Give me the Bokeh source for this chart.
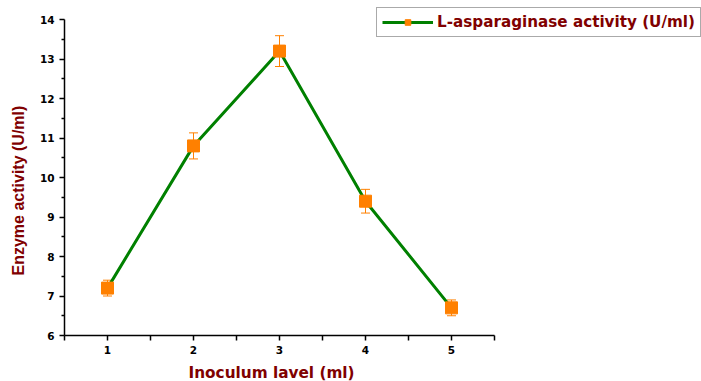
from bokeh.plotting import figure
from bokeh.models import (ColumnDataSource, Whisker, TeeHead, FixedTicker, Legend,
                          LegendItem, Range1d, Title)
from bokeh.embed import file_html
from bokeh.resources import INLINE

inoculum = [1, 2, 3, 4, 5]
activity = [7.2, 10.8, 13.2, 9.4, 6.7]
error = [0.2, 0.33, 0.39, 0.3, 0.2]
x_ticks = [1, 2, 3, 4, 5]
x_minor = [0.5, 1.5, 2.5, 3.5, 4.5, 5.5]
y_ticks = [6, 7, 8, 9, 10, 11, 12, 13, 14]
y_minor = [6.5, 7.5, 8.5, 9.5, 10.5, 11.5, 12.5, 13.5]
x_title = "Inoculum lavel (ml)"
y_title = "Enzyme activity (U/ml)"
series_name = "L-asparaginase activity (U/ml)"

DARKRED = "#800000"
GREEN = "#008000"
ORANGE = "#FF8000"
FONT = "DejaVu Sans"
FONT2 = "Liberation Sans"

W, H = 701, 381
AX_L, AX_R, AX_T, AX_B = 64, 494, 19, 335
x0, x1 = x_minor[0], x_minor[-1]
y0, y1 = y_ticks[0], y_ticks[-1]
xs = (AX_R - AX_L) / (x1 - x0)
ys = (AX_B - AX_T) / (y1 - y0)

src = ColumnDataSource(data=dict(
    x=inoculum, y=activity,
    upper=[a + e for a, e in zip(activity, error)],
    lower=[a - e for a, e in zip(activity, error)],
))

p = figure(width=W, height=H, output_backend="svg", toolbar_location=None,
           x_range=Range1d(x0, x0 + (W - AX_L) / xs),
           y_range=Range1d(y0, y0 + AX_B / ys),
           min_border_left=AX_L, min_border_right=0, min_border_top=0,
           min_border_bottom=H - AX_B)
p.outline_line_color = None
p.grid.visible = False
p.background_fill_color = "white"
p.border_fill_color = "white"

ln = p.line("x", "y", source=src, line_color=GREEN, line_width=3)
wh = Whisker(source=src, base="x", upper="upper", lower="lower",
             line_color=ORANGE, line_width=1,
             upper_head=TeeHead(size=9, line_color=ORANGE, line_width=1),
             lower_head=TeeHead(size=9, line_color=ORANGE, line_width=1))
p.add_layout(wh)
sq = p.scatter("x", "y", source=src, marker="square", size=12,
               fill_color=ORANGE, line_color=ORANGE)

for ax in (p.xaxis[0], p.yaxis[0]):
    ax.axis_line_color = "black"
    ax.axis_line_width = 1.5
    ax.major_tick_line_width = 1.5
    ax.minor_tick_line_width = 1.5
    ax.major_tick_in = 0
    ax.minor_tick_in = 0
    ax.major_tick_out = 5
    ax.minor_tick_out = 3
    ax.major_label_text_font = FONT
    ax.major_label_text_font_style = "bold"
    ax.major_label_text_font_size = "10.5px"
    ax.major_label_text_color = "black"

p.xaxis[0].bounds = (x0, x1)
p.yaxis[0].bounds = (y0, y1)
p.xaxis[0].ticker = FixedTicker(ticks=x_ticks, minor_ticks=x_minor)
p.yaxis[0].ticker = FixedTicker(ticks=y_ticks, minor_ticks=y_minor)
p.xaxis[0].minor_tick_out = 5
p.xaxis[0].major_label_standoff = 5
p.yaxis[0].major_label_standoff = 5
# blank spacer label: pushes the x title panel a few pixels further down
p.xaxis[0].axis_label = " "
p.xaxis[0].axis_label_text_font_size = "1px"
p.xaxis[0].axis_label_standoff = 1

# axis titles as side-panel titles so they can be offset along the axis
p.add_layout(Title(text=x_title, align="left", offset=188 - AX_L, standoff=0,
                   vertical_align="bottom",
                   text_font=FONT, text_font_style="bold", text_font_size="15.3px",
                   text_color=DARKRED), "below")
p.add_layout(Title(text=y_title, align="left", offset=AX_B - 275, standoff=16,
                   vertical_align="top",
                   text_font=FONT2, text_font_style="bold", text_font_size="16px",
                   text_color=DARKRED), "left")

legend = Legend(items=[LegendItem(label=series_name, renderers=[ln, sq])],
                location=(376 - AX_L, AX_B - 37), orientation="vertical")
legend.label_text_font = FONT
legend.label_text_font_style = "bold"
legend.label_text_font_size = "15.2px"
legend.label_text_color = DARKRED
legend.border_line_color = "#555555"
legend.border_line_width = 1.5
legend.background_fill_color = "white"
legend.background_fill_alpha = 1
legend.glyph_width = 51
legend.glyph_height = 14
legend.label_height = 14
legend.label_standoff = 4
legend.padding = 5
legend.margin = 0
legend.spacing = 0
p.add_layout(legend, "center")

open("out.html", "w").write(file_html(p, INLINE))
